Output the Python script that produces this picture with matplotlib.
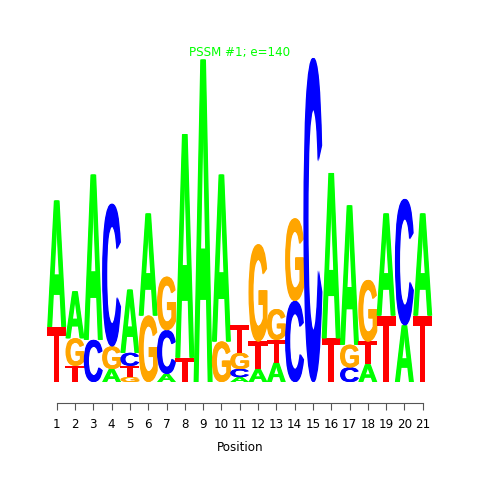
from matplotlib import pyplot as plt
from matplotlib.textpath import TextPath
from matplotlib.patches import PathPatch
from matplotlib.font_manager import FontProperties
from matplotlib.transforms import Affine2D
import numpy as np

# information content (bits) per base at each position
positions = list(range(1, 22))
heights_A = [0.78, 0.29, 1.02, 0.08, 0.39, 0.63, 0.05, 1.38, 1.99, 1.03, 0.03,
             0.08, 0.12, 0.00, 0.00, 1.02, 0.86, 0.11, 0.63, 0.35, 0.63]
heights_C = [0.00, 0.00, 0.26, 0.88, 0.08, 0.00, 0.27, 0.00, 0.00, 0.00, 0.05,
             0.00, 0.00, 0.50, 2.00, 0.00, 0.09, 0.00, 0.00, 0.78, 0.00]
heights_G = [0.00, 0.17, 0.00, 0.14, 0.03, 0.41, 0.33, 0.00, 0.00, 0.25, 0.10,
             0.60, 0.19, 0.51, 0.00, 0.00, 0.14, 0.38, 0.00, 0.00, 0.00]
heights_T = [0.34, 0.10, 0.00, 0.00, 0.07, 0.00, 0.00, 0.15, 0.00, 0.00, 0.17,
             0.17, 0.14, 0.00, 0.00, 0.27, 0.00, 0.14, 0.41, 0.00, 0.41]

title = "PSSM #1; e=140"
colors = {"A": "#00ff00", "C": "#0000ff", "G": "#ffa500", "T": "#ff0000"}

fp = FontProperties(family="Liberation Sans", weight="bold")
glyphs = {}
for b in "ACGT":
    p = TextPath((0, 0), b, size=1, prop=fp)
    glyphs[b] = (p, p.get_extents())

LETTER_W = 1.04       # column width in data units
FATTEN = 0.6 / 18.3   # slight horizontal thickening of the strokes


def draw_letter(ax, base, x, y0, h):
    p, ext = glyphs[base]
    w = LETTER_W - 2 * FATTEN
    for dx in np.linspace(-FATTEN, FATTEN, 3):
        tr = (Affine2D()
              .translate(-ext.x0, -ext.y0)
              .scale(w / ext.width, h / ext.height)
              .translate(x - w / 2 + dx, y0))
        ax.add_patch(PathPatch(tr.transform_path(p), facecolor=colors[base],
                               edgecolor="none"))


fig = plt.figure(figsize=(4.8, 4.8), dpi=100)
ax = fig.add_axes([40 / 480, 77 / 480, 400 / 480, 353 / 480])

for i, pos in enumerate(positions):
    stack = [("A", heights_A[i]), ("C", heights_C[i]),
             ("G", heights_G[i]), ("T", heights_T[i])]
    stack = sorted([s for s in stack if s[1] > 0], key=lambda s: s[1])
    y = 0
    for b, h in stack:
        draw_letter(ax, b, pos, y, h)
        y += h

ax.set_xlim(0.0874, 21.945)
ax.set_ylim(-0.1296, 2.049)

for s in ["top", "right", "left"]:
    ax.spines[s].set_visible(False)
ax.spines["bottom"].set_bounds(1, 21)
ax.spines["bottom"].set_color("#555555")
ax.set_yticks([])
ax.set_xticks(positions)
ax.tick_params(axis="x", length=5, color="#555555", labelsize=8.6, pad=6)
ax.set_xlabel("Position", fontsize=8.6, labelpad=7)

fig.text(0.5, 1 - 52.7 / 480, title, color="#00ff00", fontsize=8.6,
         ha="center", va="center")

fig.savefig("out.png", dpi=100)
